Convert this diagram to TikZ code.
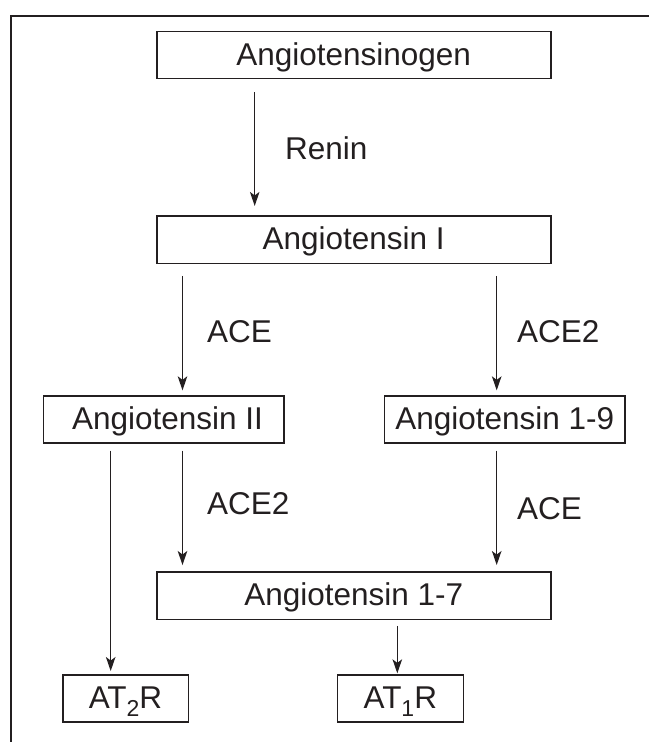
\documentclass[tikz,border=0pt]{standalone}
\usepackage{fontspec}
\setmainfont{Liberation Sans}
\usetikzlibrary{arrows.meta}
\definecolor{ink}{HTML}{231F20}
\tikzset{
  box/.style={draw=ink, line width=1.6pt, rectangle, inner sep=0pt,
    minimum height=47.3pt, text height=22.7pt, text depth=2.5pt,
    font=\fontsize{31.5}{36}\selectfont, text=ink},
  lbl/.style={anchor=base west, inner sep=0pt, font=\fontsize{31.5}{36}\selectfont, text=ink},
  arr/.style={draw=ink, line width=1.4pt, -{Stealth[length=14pt,width=9.5pt,inset=3.5pt]}},
  frame/.style={draw=ink, line width=1.4pt}
}
\newcommand{\subnum}[1]{\raisebox{-8pt}{\fontsize{23}{23}\selectfont #1}}
\begin{document}
\begin{tikzpicture}[x=1pt,y=-1pt]
\useasboundingbox (0,0) rectangle (649,742);
\coordinate (fbl) at (11,742);
\coordinate (ftl) at (11,16);
\coordinate (ftr) at (649,16);
\draw[frame] (fbl) -- (ftl) -- (ftr);

\node[box, minimum width=394pt] (ag) at (353.7,55) {Angiotensinogen};
\node[box, minimum width=394pt] (a1) at (353.7,239.7) {Angiotensin I};
\node[box, minimum width=240.4pt] (a2) at (163.5,419.5) {\hspace{8pt}Angiotensin II};
\node[box, minimum width=240.7pt] (a9) at (504.7,419.5) {Angiotensin 1-9};
\node[box, minimum width=394pt] (a7) at (353.7,595.8) {Angiotensin 1-7};
\node[box, minimum width=125.6pt] (at2) at (125.5,698.5) {AT\subnum{2}R\hspace{8pt}};
\node[box, minimum width=126pt] (at1) at (400.3,698.5) {AT\subnum{1}R\hspace{8pt}};

\draw[arr] ([xshift=-99pt,yshift=-12.7pt]ag.south) -- ([xshift=-99pt,yshift=9.3pt]a1.north);
\draw[arr] ([xshift=-171.2pt,yshift=-11.7pt]a1.south) -- ([xshift=19pt,yshift=4.7pt]a2.north);
\draw[arr] ([xshift=143pt,yshift=-11.7pt]a1.south) -- ([xshift=-8pt,yshift=4.7pt]a9.north);
\draw[arr] ([xshift=-52.8pt,yshift=-6.7pt]a2.south) -- ([xshift=-14.8pt,yshift=3pt]at2.north);
\draw[arr] ([xshift=19pt,yshift=-6.7pt]a2.south) -- ([xshift=-171.2pt,yshift=6.3pt]a7.north);
\draw[arr] ([xshift=-8pt,yshift=-6.7pt]a9.south) -- ([xshift=143pt,yshift=6.3pt]a7.north);
\draw[arr] ([xshift=43.6pt,yshift=-5.7pt]a7.south) -- ([xshift=-3pt,yshift=0.7pt]at1.north);

\node[lbl] (renin) at (285,159.3) {Renin};
\node[lbl] (ace1) at (207,342) {ACE};
\node[lbl] (ace2a) at (517,342) {ACE2};
\node[lbl] (ace2b) at (207,514) {ACE2};
\node[lbl] (ace3) at (517,519) {ACE};
\end{tikzpicture}
\end{document}
